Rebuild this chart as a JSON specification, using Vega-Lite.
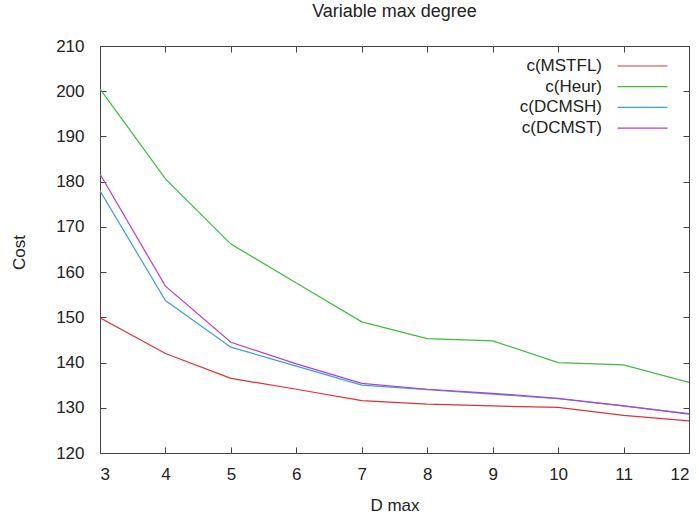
{
  "$schema": "https://vega.github.io/schema/vega-lite/v6.json",
  "width": 589,
  "height": 407,
  "autosize": {"type": "none"},
  "padding": {"left": 100, "top": 46, "right": 10, "bottom": 66},
  "background": "white",
  "title": {"text": "Variable max degree", "font": "Liberation Sans", "fontSize": 18, "fontWeight": "normal", "color": "#222", "offset": 16, "anchor": "middle"},
  "config": {
    "view": {"stroke": "#444", "strokeWidth": 1},
    "font": "Liberation Sans",
    "axis": {"grid": false, "domainColor": "#444", "tickColor": "#444", "labelColor": "#222", "titleColor": "#222", "labelFont": "Liberation Sans", "titleFont": "Liberation Sans", "labelFontSize": 17, "titleFontSize": 17, "titleFontWeight": "normal"}
  },
  "data": {"values": [
    {"d": 3, "series": "c(MSTFL)", "cost": 149.9},
    {"d": 4, "series": "c(MSTFL)", "cost": 142.0},
    {"d": 5, "series": "c(MSTFL)", "cost": 136.5},
    {"d": 6, "series": "c(MSTFL)", "cost": 134.1},
    {"d": 7, "series": "c(MSTFL)", "cost": 131.6},
    {"d": 8, "series": "c(MSTFL)", "cost": 130.8},
    {"d": 9, "series": "c(MSTFL)", "cost": 130.4},
    {"d": 10, "series": "c(MSTFL)", "cost": 130.1},
    {"d": 11, "series": "c(MSTFL)", "cost": 128.3},
    {"d": 12, "series": "c(MSTFL)", "cost": 127.1},
    {"d": 3, "series": "c(Heur)", "cost": 200.5},
    {"d": 4, "series": "c(Heur)", "cost": 180.6},
    {"d": 5, "series": "c(Heur)", "cost": 166.2},
    {"d": 6, "series": "c(Heur)", "cost": 157.6},
    {"d": 7, "series": "c(Heur)", "cost": 149.0},
    {"d": 8, "series": "c(Heur)", "cost": 145.3},
    {"d": 9, "series": "c(Heur)", "cost": 144.8},
    {"d": 10, "series": "c(Heur)", "cost": 140.0},
    {"d": 11, "series": "c(Heur)", "cost": 139.5},
    {"d": 12, "series": "c(Heur)", "cost": 135.6},
    {"d": 3, "series": "c(DCMSH)", "cost": 178.0},
    {"d": 4, "series": "c(DCMSH)", "cost": 153.7},
    {"d": 5, "series": "c(DCMSH)", "cost": 143.4},
    {"d": 6, "series": "c(DCMSH)", "cost": 139.2},
    {"d": 7, "series": "c(DCMSH)", "cost": 135.0},
    {"d": 8, "series": "c(DCMSH)", "cost": 134.0},
    {"d": 9, "series": "c(DCMSH)", "cost": 133.0},
    {"d": 10, "series": "c(DCMSH)", "cost": 132.0},
    {"d": 11, "series": "c(DCMSH)", "cost": 130.4},
    {"d": 12, "series": "c(DCMSH)", "cost": 128.7},
    {"d": 3, "series": "c(DCMST)", "cost": 181.7},
    {"d": 4, "series": "c(DCMST)", "cost": 156.9},
    {"d": 5, "series": "c(DCMST)", "cost": 144.5},
    {"d": 6, "series": "c(DCMST)", "cost": 139.7},
    {"d": 7, "series": "c(DCMST)", "cost": 135.4},
    {"d": 8, "series": "c(DCMST)", "cost": 134.1},
    {"d": 9, "series": "c(DCMST)", "cost": 133.2},
    {"d": 10, "series": "c(DCMST)", "cost": 132.1},
    {"d": 11, "series": "c(DCMST)", "cost": 130.4},
    {"d": 12, "series": "c(DCMST)", "cost": 128.6}
  ]},
  "layer": [
    {
      "mark": {"type": "line", "strokeWidth": 1.2, "clip": true},
      "encoding": {
        "x": {"field": "d", "type": "quantitative", "scale": {"domain": [3, 12], "nice": false, "zero": false},
              "axis": {"orient": "bottom", "values": [3,4,5,6,7,8,9,10,11,12], "tickSize": -6, "labelPadding": 19, "title": "D max", "titlePadding": 15}},
        "y": {"field": "cost", "type": "quantitative", "scale": {"domain": [120, 210], "nice": false, "zero": false},
              "axis": {"orient": "left", "values": [120,130,140,150,160,170,180,190,200,210], "tickSize": -6, "labelPadding": 22, "title": "Cost", "titleAngle": -90, "titleX": -81, "titleY": 206, "titleAlign": "center", "titleBaseline": "middle"}},
        "color": {"field": "series", "type": "nominal",
                  "scale": {"domain": ["c(MSTFL)", "c(Heur)", "c(DCMSH)", "c(DCMST)"], "range": ["#e03232", "#3cbf3c", "#3a9ee4", "#b43ce0"]},
                  "legend": {"title": null, "orient": "none", "legendX": 534, "legendY": 11.5, "symbolType": "M-5,0H5", "symbolSize": 100, "symbolStrokeWidth": 1.2, "labelAlign": "right", "labelOffset": -49, "labelFontSize": 17, "labelFont": "Liberation Sans", "labelColor": "#222", "rowPadding": 2.7}},
        "detail": {"field": "series"}
      }
    },
    {
      "mark": {"type": "line", "opacity": 0},
      "encoding": {
        "x": {"field": "d", "type": "quantitative", "axis": {"orient": "top", "values": [3,4,5,6,7,8,9,10,11,12], "tickSize": -6, "labels": false, "title": null}},
        "y": {"field": "cost", "type": "quantitative", "axis": {"orient": "right", "values": [120,130,140,150,160,170,180,190,200,210], "tickSize": -6, "labels": false, "title": null}},
        "detail": {"field": "series"}
      }
    }
  ],
  "resolve": {"axis": {"x": "independent", "y": "independent"}}
}
